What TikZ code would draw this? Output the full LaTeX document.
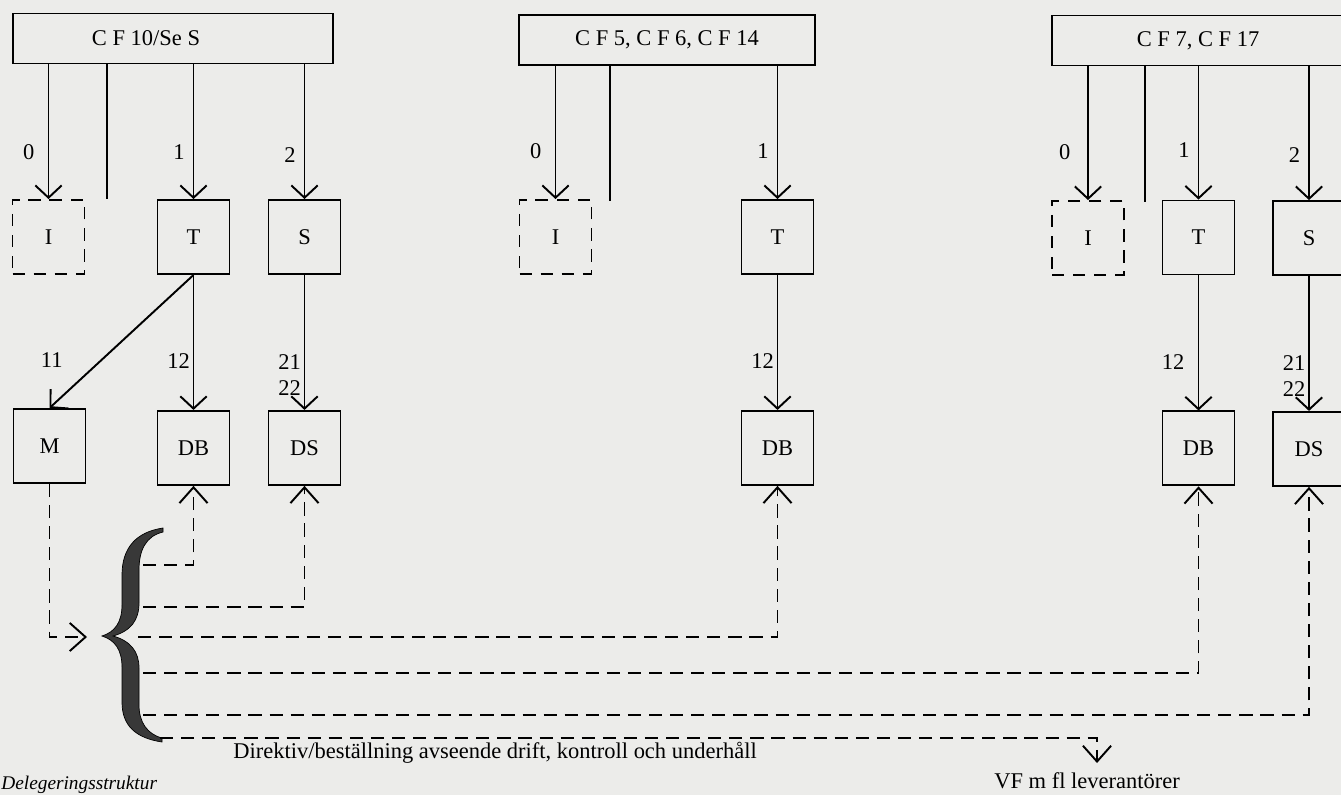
\documentclass[tikz,border=0pt]{standalone}
\usepackage{fontspec}
\setmainfont{Liberation Serif}
\usepackage{tikz}
\usetikzlibrary{positioning, arrows.meta}
\definecolor{paper}{RGB}{236,236,234}

\begin{document}
\begin{tikzpicture}[x=0.02cm, y=-0.02cm,
    txt/.style={font=\fontsize{12.8}{15}\selectfont},
    head/.style={draw, line width=1.1pt, txt, minimum height=1cm},
    blk/.style={draw, line width=1.1pt, txt, minimum width=1.44cm,
      minimum height=1.48cm, inner sep=0pt},
    opt/.style={blk, dash pattern=on 7pt off 5pt},
    lbl/.style={txt, inner sep=1.5pt},
    ln/.style={line width=1.1pt},
    arr/.style={-{Straight Barb[length=7pt, width=15pt]}, line width=1.1pt},
    darr/.style={-{Straight Barb[length=9pt, width=16pt]}, line width=1.1pt,
      dash pattern=on 7.5pt off 4.5pt}
  ]
  \useasboundingbox (0,0) rectangle (1341,795);
  \clip (0,0) rectangle (1341,795);
  \fill[paper] (0,0) rectangle (1341,795);

  % headers
  \node[head, minimum width=6.4cm] (cf1) at (173,38.5) {C F 10/Se S\hspace*{1.08cm}};
  \node[head, minimum width=5.92cm] (cf2) at (667,40) {C F 5, C F 6, C F 14};
  \node[head, minimum width=5.84cm] (cf3) at (1198,40.5) {C F 7, C F 17};

  % first level
  \node[opt] (i1) at (48.5,237) {I};
  \node[blk] (t1) at (193.5,237) {T};
  \node[blk] (s1) at (304.5,237) {S};
  \node[opt] (i2) at (555.5,237) {I};
  \node[blk] (t2) at (777.5,237) {T};
  \node[opt] (i3) at (1088,238) {I};
  \node[blk] (t3) at (1198.5,237.5) {T};
  \node[blk] (s3) at (1309,238) {S};

  % second level
  \node[blk] (m) at (49.5,446) {M};
  \node[blk, below=2.7cm of t1] (db1) {DB};
  \node[blk, below=2.7cm of s1] (ds1) {DS};
  \node[blk, below=2.7cm of t2] (db2) {DB};
  \node[blk, below=2.7cm of t3] (db3) {DB};
  \node[blk, below=2.7cm of s3] (ds3) {DS};

  \coordinate (e1) at (107,199);
  \coordinate (e2) at (610,201);
  \coordinate (e3) at (1145,202);

  \draw[arr] (cf1.south -| i1) -- node[lbl, pos=0.65, left=6pt] {0} (i1);
  \draw[ln] (cf1.south -| e1) -- (e1);
  \draw[arr] (cf1.south -| t1) -- node[lbl, pos=0.65, left=3pt] {1} (t1);
  \draw[arr] (cf1.south -| s1) -- node[lbl, pos=0.67, left=3pt] {2} (s1);
  \draw[arr] (cf2.south -| i2) -- node[lbl, pos=0.64, left=6pt] {0} (i2);
  \draw[ln] (cf2.south -| e2) -- (e2);
  \draw[arr] (cf2.south -| t2) -- node[lbl, pos=0.64, left=3pt] {1} (t2);
  \draw[arr] (cf3.south -| i3) -- node[lbl, pos=0.64, left=8pt] {0} (i3);
  \draw[ln] (cf3.south -| e3) -- (e3);
  \draw[arr] (cf3.south -| t3) -- node[lbl, pos=0.63, left=3pt] {1} (t3);
  \draw[arr] (cf3.south -| s3) -- node[lbl, pos=0.66, left=3pt] {2} (s3);

  \draw[arr] (t1.south) -- node[lbl, pos=0.64, left=20pt] {11} (m.north);
  \draw[arr] (t1) -- node[lbl, pos=0.64, left] {12} (db1);
  \draw[arr] (s1) -- node[lbl, pos=0.74, left, align=right] {21\\22} (ds1);
  \draw[arr] (t2) -- node[lbl, pos=0.64, left] {12} (db2);
  \draw[arr] (t3) -- node[lbl, pos=0.64, left=6pt] {12} (db3);
  \draw[arr] (s3) -- node[lbl, pos=0.74, left, align=right] {21\\22} (ds3);

  % brace
  \filldraw[fill=black!78, draw=black, line width=0.4pt]
    (163,528) .. controls (136,532) and (122,548) .. (122,575)
    -- (122,605) .. controls (122,622) and (115,632) .. (102,636)
    .. controls (115,640) and (122,650) .. (122,667)
    -- (122,702) .. controls (122,726) and (136,738) .. (162,742)
    -- (162,738) .. controls (147,734) and (139,722) .. (139,705)
    -- (139,668) .. controls (139,652) and (131,641) .. (113,636)
    .. controls (131,631) and (139,620) .. (139,603)
    -- (139,570) .. controls (139,550) and (146,536) .. (163,532) -- cycle;

  \coordinate (mtip) at (87,637);
  \coordinate (br1) at (143,565);
  \coordinate (br2) at (143,607);
  \coordinate (br3) at (138,637);
  \coordinate (br4) at (143,673);
  \coordinate (br5) at (143,715);
  \coordinate (br6) at (160,738);
  \coordinate (vftip) at (1097,763);

  \draw[darr] (m) |- (mtip);
  \draw[darr] (br1) -| (db1);
  \draw[darr] (br2) -| (ds1);
  \draw[darr] (br3) -| (db2);
  \draw[darr] (br4) -| (db3);
  \draw[darr] (br5) -| (ds3);
  \draw[darr] (br6) -| (vftip);

  \node[txt, anchor=west, inner sep=0pt] (dir) at (233,753)
    {Direktiv/beställning avseende drift, kontroll och underhåll};
  \node[txt, inner sep=0pt] (vf) at (1087,781) {VF m fl leverantörer};
  \node[font=\fontsize{11}{13}\selectfont\itshape, anchor=base west,
    inner sep=0pt] (deleg) at (1,789) {Delegeringsstruktur};
\end{tikzpicture}
\end{document}
